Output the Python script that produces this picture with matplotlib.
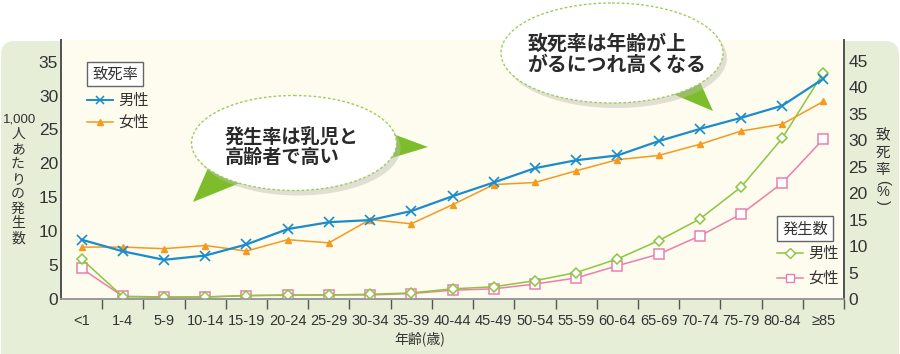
import matplotlib
matplotlib.use("Agg")
import matplotlib.pyplot as plt
from matplotlib.patches import Ellipse, Polygon, Rectangle, FancyBboxPatch
from matplotlib.lines import Line2D

plt.rcParams['font.family'] = ['Noto Sans CJK JP', 'DejaVu Sans']

# ---------------- data ----------------
age_groups = ['<1', '1-4', '5-9', '10-14', '15-19', '20-24', '25-29', '30-34', '35-39',
              '40-44', '45-49', '50-54', '55-59', '60-64', '65-69', '70-74', '75-79',
              '80-84', '≥85']
# incidence per 1,000 (left axis)
inc_male = [5.9, 0.35, 0.25, 0.3, 0.5, 0.55, 0.6, 0.7, 0.9, 1.5, 1.8, 2.7, 3.9, 5.9,
            8.6, 11.8, 16.5, 23.7, 33.4]
inc_female = [4.5, 0.4, 0.3, 0.3, 0.5, 0.6, 0.6, 0.6, 0.8, 1.3, 1.5, 2.2, 3.1, 4.9,
              6.6, 9.3, 12.5, 17.1, 23.6]
# case fatality % (right axis)
fat_male = [11.2, 9.0, 7.4, 8.2, 10.3, 13.2, 14.5, 14.9, 16.6, 19.4, 22.0, 24.7, 26.2,
            27.1, 29.8, 32.1, 34.2, 36.5, 41.6]
fat_female = [9.8, 9.8, 9.5, 10.1, 9.05, 11.2, 10.6, 15.0, 14.2, 17.8, 21.6, 22.0, 24.2,
              26.3, 27.1, 29.2, 31.7, 33.0, 37.3]
left_ticks = [0, 5, 10, 15, 20, 25, 30, 35]
right_ticks = [0, 5, 10, 15, 20, 25, 30, 35, 40, 45]

# ---------------- style ----------------
W, H = 900, 354
C_BLUE = '#1a8ccd'
C_ORANGE = '#f39a1f'
C_GREEN = '#8cc63f'
C_PINK = '#ec7eab'
C_PANEL = '#e7eed8'
C_CREAM = '#fdfcee'
C_AXIS = '#555555'
C_TXT = '#333333'
NUM_FONT = ['Liberation Sans', 'DejaVu Sans']
NARROW_FONT = ['Liberation Sans Narrow', 'Liberation Sans', 'DejaVu Sans']

fig = plt.figure(figsize=(W / 100, H / 100), dpi=100)
fig.patch.set_facecolor('white')

# outer rounded panel (pixel-space background)
bg = fig.add_axes([0, 0, 1, 1], zorder=-10)
bg.set_xlim(0, W)
bg.set_ylim(H, 0)
bg.axis('off')
bg.add_patch(FancyBboxPatch((1, 41), W - 2, H + 20, boxstyle='round,pad=0,rounding_size=14',
                            facecolor=C_PANEL, edgecolor='none'))

x0, x1, yb, yt = 61, 844, 299, 40
ax = fig.add_axes([x0 / W, 1 - yb / H, (x1 - x0) / W, (yb - yt) / H], zorder=1)
ax.set_facecolor(C_CREAM)
ax2 = ax.twinx()

xs = list(range(len(age_groups)))
ax.set_xlim(-0.5, len(age_groups) - 0.5)
ax.set_ylim(0, 38.2)
ax2.set_ylim(0, 48.9)

# incidence lines
ax.plot(xs, inc_female, color=C_PINK, lw=1.1, marker='s', ms=6.5, mfc='white',
        mec=C_PINK, mew=1.1, zorder=3)
ax.plot(xs, inc_male, color=C_GREEN, lw=1.1, marker='D', ms=5.5, mfc='white',
        mec=C_GREEN, mew=1.1, zorder=4)
# fatality lines
ax2.plot(xs, fat_female, color=C_ORANGE, lw=1.1, marker='^', ms=5, mfc=C_ORANGE,
         mec=C_ORANGE, zorder=3)
ax2.plot(xs, fat_male, color=C_BLUE, lw=1.6, marker='x', ms=7, mew=1.2, zorder=4)

# spines & ticks
for a in (ax, ax2):
    a.spines['top'].set_visible(False)
    a.spines['left'].set_color(C_AXIS)
    a.spines['right'].set_color(C_AXIS)
    a.spines['left'].set_linewidth(1.4)
    a.spines['right'].set_linewidth(1.4)
    a.spines['bottom'].set_color('#999999')
    a.spines['bottom'].set_linewidth(1.2)

ax.set_yticks(left_ticks)
ax.set_yticklabels([str(t) for t in left_ticks], fontsize=12.5, color=C_TXT,
                   family=NUM_FONT)
ax.tick_params(axis='y', length=0, pad=2)
ax2.set_yticks(right_ticks)
ax2.set_yticklabels([str(t) for t in right_ticks], fontsize=12.5, color=C_TXT,
                    family=NUM_FONT)
ax2.tick_params(axis='y', length=0, pad=3)

ax.set_xticks(xs)
ax.set_xticklabels(age_groups, fontsize=10.5, color=C_TXT, family=NARROW_FONT)
ax.set_xticks([i - 0.5 for i in range(1, len(age_groups) + 1)], minor=True)
ax.tick_params(axis='x', which='major', length=0, pad=11)
ax.tick_params(axis='x', which='minor', length=7, width=1, color=C_AXIS, direction='out')

# ---------------- overlay (pixel coordinates) ----------------
ov = fig.add_axes([0, 0, 1, 1], zorder=5)
ov.set_xlim(0, W)
ov.set_ylim(H, 0)
ov.axis('off')
ov.patch.set_alpha(0)

def T(x, y, s, **kw):
    kw.setdefault('color', C_TXT)
    ov.text(x, y, s, **kw)

# axis titles
T(420, 339, '年齢(歳)', fontsize=10, ha='center', va='center')
T(20, 120, '1,000', fontsize=9.5, ha='center', va='center', family=NUM_FONT)
for k, ch in enumerate('人あたりの発生数'):
    T(18, 134 + k * 14.9, ch, fontsize=10, ha='center', va='center')
T(883, 136, '致', fontsize=10.5, ha='center', va='center')
T(883, 153, '死', fontsize=10.5, ha='center', va='center')
T(883, 170, '率', fontsize=10.5, ha='center', va='center')
T(883, 182, '(', fontsize=10.5, ha='center', va='center', rotation=-90, family=NUM_FONT)
T(883, 192, '%', fontsize=10.5, ha='center', va='center', family=NUM_FONT)
T(883, 202, ')', fontsize=10.5, ha='center', va='center', rotation=-90, family=NUM_FONT)

# legends
def legend_box(x, y, w, h, title):
    ov.add_patch(Rectangle((x, y), w, h, facecolor='white', edgecolor='#666666', lw=1.0))
    T(x + w / 2, y + h / 2 + 0.5, title, fontsize=11, ha='center', va='center')

def legend_entry(x, y, color, text, **mk):
    ov.add_line(Line2D([x, x + 26], [y, y], color=color, **mk))
    T(x + 31, y, text, fontsize=11, ha='left', va='center')

legend_box(87, 62, 56, 24, '致死率')
legend_entry(87, 100, C_BLUE, '男性', lw=1.4, marker='x', ms=6, mew=1.1,
             markevery=[0, 1][0:0] or None)
legend_entry(87, 122, C_ORANGE, '女性', lw=1.1, marker='^', ms=4.5)
legend_box(777, 216, 56, 25, '発生数')
legend_entry(777, 253, C_GREEN, '男性', lw=1.1, marker='D', ms=5, mfc='white', mew=1.0)
legend_entry(777, 278, C_PINK, '女性', lw=1.1, marker='s', ms=6, mfc='white', mew=1.0)

# fix legend markers to centre only
for ln in ov.lines:
    ln.set_markevery([])
for ln, col, m, ms, mfc, mew in [
        ((87, 100), C_BLUE, 'x', 6, C_BLUE, 1.1),
        ((87, 122), C_ORANGE, '^', 4.5, C_ORANGE, 1.0),
        ((777, 253), C_GREEN, 'D', 5, 'white', 1.0),
        ((777, 278), C_PINK, 's', 6, 'white', 1.0)]:
    ov.plot([ln[0] + 13], [ln[1]], marker=m, ms=ms, color=col, mfc=mfc, mec=col,
            mew=mew, ls='none')

# speech bubbles
def bubble(cx, cy, w, h, tails, lines, tx, ty, fs, ls):
    for tri in tails:
        ov.add_patch(Polygon(tri, closed=True, facecolor='#7dbd2b', edgecolor='none',
                             zorder=1))
    ov.add_patch(Ellipse((cx + 4, cy + 5), w, h, facecolor='#bdbdae', edgecolor='none',
                         alpha=0.45, zorder=2))
    ov.add_patch(Ellipse((cx, cy), w, h, facecolor='white', edgecolor='#9fcd5e',
                         lw=1.0, ls=(0, (2, 1.5)), zorder=3))
    ov.text(tx, ty, lines, fontsize=fs, ha='left', va='center', color='#2a2a2a',
            fontweight='bold', linespacing=ls, zorder=4)

bubble(294, 143, 205, 95,
       [[(208, 168), (240, 183), (193, 202)], [(385, 131), (385, 160), (428, 147)]],
       '発生率は乳児と\n高齢者で高い', 225, 147.5, 13.8, 1.1)
bubble(612, 53, 222, 100,
       [[(668, 92), (700, 82), (713, 111)]],
       '致死率は年齢が上\nがるにつれ高くなる', 527, 54, 14.3, 1.05)

fig.savefig('out.png', dpi=100, facecolor=fig.get_facecolor())
